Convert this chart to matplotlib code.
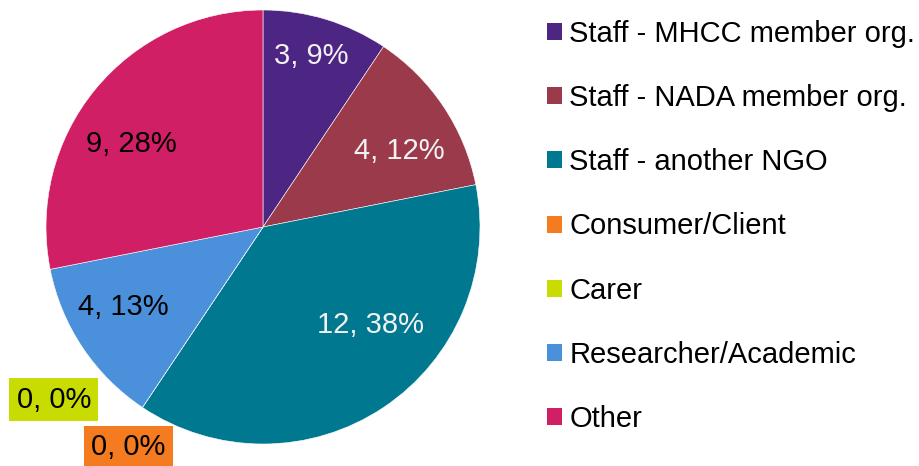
import numpy as np
import matplotlib.pyplot as plt
from matplotlib.patches import Patch

plt.rcParams['font.family'] = ['Liberation Sans', 'DejaVu Sans']

categories = ['Staff - MHCC member org.', 'Staff - NADA member org.', 'Staff - another NGO',
              'Consumer/Client', 'Carer', 'Researcher/Academic', 'Other']
counts = [3, 4, 12, 0, 0, 4, 9]
pct_labels = ['9%', '12%', '38%', '0%', '0%', '13%', '28%']
colors = ['#4D2583', '#9B3A4B', '#00788F', '#F47B20', '#C9DC02', '#4A90DB', '#D11F65']

# label placement: (angle shift from wedge middle in degrees, radius)
label_pos = [(1.1, 0.82), (-4.75, 0.72), (13.75, 0.67), (2.35, 1.19),
             (-16.75, 1.25), (-4.0, 0.74), (7.1, 0.72)]
text_cols = ['#F2F2F2', '#F2F2F2', '#F2F2F2', 'black', 'black', 'black', 'black']

fig = plt.figure(figsize=(9.2, 4.66), dpi=100)
W, H = 920, 466
cx, cy, R = 263, 227, 217
ax = fig.add_axes([(cx - R) / W, (H - cy - R) / H, 2 * R / W, 2 * R / H])

wedges, _ = ax.pie(counts, colors=colors, startangle=90, counterclock=False,
                   radius=1, wedgeprops=dict(edgecolor='white', linewidth=0.4))
ax.set_xlim(-1, 1)
ax.set_ylim(-1, 1)
ax.axis('off')

for i, w in enumerate(wedges):
    mid = (w.theta1 + w.theta2) / 2 + label_pos[i][0]
    r = label_pos[i][1]
    x = r * np.cos(np.radians(mid))
    y = r * np.sin(np.radians(mid))
    txt = f'{counts[i]}, {pct_labels[i]}'
    kw = {}
    if counts[i] == 0:
        kw['bbox'] = dict(boxstyle='square,pad=0.25', facecolor=colors[i], edgecolor='none')
    ax.text(x, y, txt, ha='center', va='center', fontsize=21, color=text_cols[i],
            clip_on=False, **kw)

handles = [Patch(facecolor=c, edgecolor='none') for c in colors]
fig.legend(handles, categories, loc='upper left', bbox_to_anchor=(547 / W, 1 - 20 / H),
           frameon=False, fontsize=21, handlelength=0.52, handleheight=0.52,
           handletextpad=0.24, labelspacing=1.24, borderpad=0, borderaxespad=0)

fig.savefig('out.png', dpi=100)
